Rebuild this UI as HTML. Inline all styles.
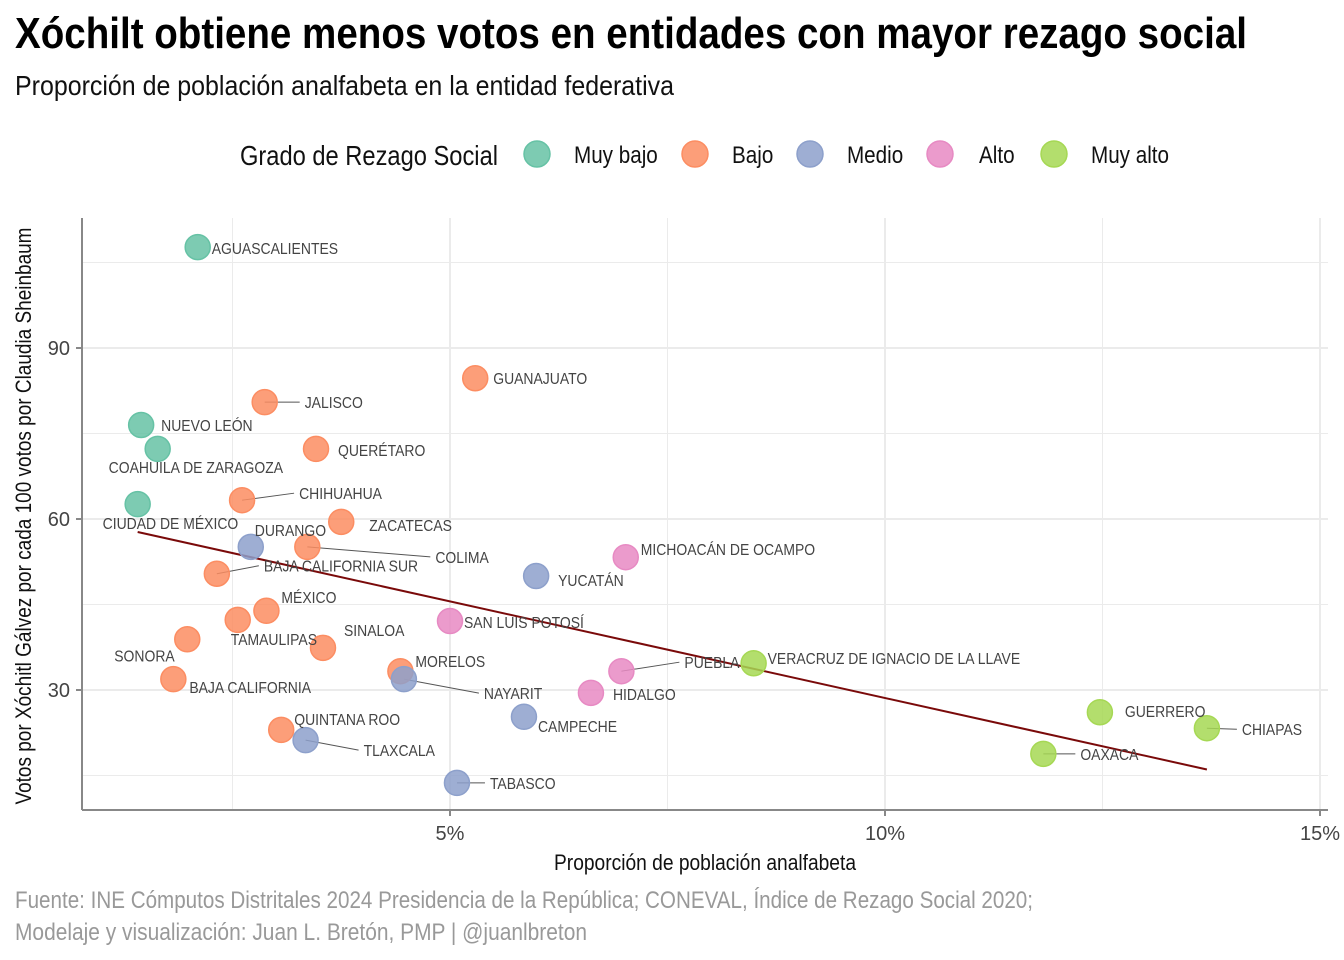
<!DOCTYPE html>
<html><head><meta charset="utf-8"><style>
html,body{margin:0;padding:0;background:#fff}
svg{display:block;font-family:"Liberation Sans",sans-serif}
</style></head><body>
<svg id="chart" width="1344" height="960" viewBox="0 0 1344 960">
<text x="15" y="48" font-size="44" font-weight="bold" fill="#000" textLength="1232" lengthAdjust="spacingAndGlyphs">Xóchilt obtiene menos votos en entidades con mayor rezago social</text>
<text x="15" y="95" font-size="28" fill="#111" textLength="659" lengthAdjust="spacingAndGlyphs">Proporción de población analfabeta en la entidad federativa</text>
<g id="legend">
<text x="240" y="165" font-size="28" fill="#111" textLength="258" lengthAdjust="spacingAndGlyphs">Grado de Rezago Social</text>
</g>
<g id="grid"></g><g id="axes"></g><g id="trend"></g><g id="leaders"></g><g id="points"></g><g id="labels"></g>
<text x="705" y="870" font-size="22" fill="#111" text-anchor="middle" textLength="302" lengthAdjust="spacingAndGlyphs">Proporción de población analfabeta</text>
<text transform="translate(31,516) rotate(-90)" font-size="22" fill="#111" text-anchor="middle" textLength="577" lengthAdjust="spacingAndGlyphs">Votos por Xóchitl Gálvez por cada 100 votos por Claudia Sheinbaum</text>
<text x="15" y="908" font-size="24" fill="#999" textLength="1018" lengthAdjust="spacingAndGlyphs">Fuente: INE Cómputos Distritales 2024 Presidencia de la República; CONEVAL, Índice de Rezago Social 2020;</text>
<text x="15" y="940" font-size="24" fill="#999" textLength="572" lengthAdjust="spacingAndGlyphs">Modelaje y visualización: Juan L. Bretón, PMP | @juanlbreton</text>
</svg>
<script>
const states = ["AGUASCALIENTES","GUANAJUATO","JALISCO","NUEVO LEÓN","COAHUILA DE ZARAGOZA","QUERÉTARO","CHIHUAHUA","CIUDAD DE MÉXICO","ZACATECAS","DURANGO","COLIMA","MICHOACÁN DE OCAMPO","BAJA CALIFORNIA SUR","YUCATÁN","MÉXICO","TAMAULIPAS","SAN LUIS POTOSÍ","SONORA","SINALOA","VERACRUZ DE IGNACIO DE LA LLAVE","MORELOS","PUEBLA","NAYARIT","BAJA CALIFORNIA","HIDALGO","GUERRERO","CAMPECHE","CHIAPAS","QUINTANA ROO","TLAXCALA","OAXACA","TABASCO"];
const illiteracy = [2.10,5.29,2.87,1.45,1.64,3.46,2.61,1.41,3.75,2.71,3.36,7.02,2.32,5.99,2.89,2.56,5.00,1.98,3.54,8.49,4.43,6.97,4.47,1.82,6.62,12.47,5.85,13.70,3.06,3.34,11.82,5.08];
const votes = [107.7,84.7,80.5,76.5,72.3,72.3,63.3,62.6,59.5,55.1,55.1,53.3,50.4,50.0,43.9,42.3,42.1,38.9,37.4,34.7,33.3,33.3,31.9,31.9,29.5,26.1,25.3,23.3,23.0,21.2,18.8,13.7];
const rezago = ["Muy bajo","Bajo","Bajo","Muy bajo","Muy bajo","Bajo","Bajo","Muy bajo","Bajo","Medio","Bajo","Alto","Bajo","Medio","Bajo","Bajo","Alto","Bajo","Bajo","Muy alto","Bajo","Alto","Medio","Bajo","Alto","Muy alto","Medio","Muy alto","Bajo","Medio","Muy alto","Medio"];
const categories = ["Muy bajo","Bajo","Medio","Alto","Muy alto"];
const trendCoef = [62.5,-3.39];
const xTicks = [5,10,15];
const xTickLabels = ["5%","10%","15%"];
const yTicks = [30,60,90];
const yTickLabels = ["30","60","90"];

const colors = ["#66c2a5","#fc8d62","#8da0cb","#e78ac3","#a6d854"];
// label placement offsets (pixels) relative to point: [dx, dy, leader]
const labelOffsets = [[14,7,0],[18,6,0],[40,6,1],[20,6,0],[-49,24,0],[22,7,0],[57,-1,1],[-35,25,0],[28,9,0],[4,-11,0],[128,16,1],[15,-2,0],[47,-2,1],[22,10,0],[15,-8,0],[-7,25,0],[14,7,0],[-73,22,0],[21,-12,0],[14,1,0],[15,-4,0],[63,-3,1],[80,20,1],[16,14,0],[22,7,0],[25,5,0],[14,15,0],[35,7,1],[13,-5,0],[58,16,1],[37,6,1],[33,6,1]];

const NS="http://www.w3.org/2000/svg";
const X0=82,X1=1328,Y0=218,Y1=810;
const xs=v=>15+v*87;
const ys=v=>348-(v-90)*5.7;
function mk(tag,attrs,parent){const e=document.createElementNS(NS,tag);for(const k in attrs)e.setAttribute(k,attrs[k]);parent.appendChild(e);return e;}
const grid=document.getElementById('grid'),axes=document.getElementById('axes');
[2.5,5,7.5,10,12.5,15].forEach(v=>{const l=mk('line',{x1:xs(v),x2:xs(v),y1:Y0,y2:Y1,stroke:'#ebebeb','stroke-width':v%5?1:2},grid);

});
[15,30,45,60,75,90,105].forEach(v=>{const l=mk('line',{x1:X0,x2:X1,y1:ys(v),y2:ys(v),stroke:'#ebebeb','stroke-width':v%30?1:2},grid);

});
const ax=mk('line',{x1:X0,x2:X0,y1:Y0,y2:Y1,stroke:'#888','stroke-width':2},axes);


const bx=mk('line',{x1:X0,x2:X1,y1:Y1,y2:Y1,stroke:'#888','stroke-width':2},axes);


xTicks.forEach((v,i)=>{mk('line',{x1:xs(v),x2:xs(v),y1:Y1,y2:Y1+6,stroke:'#888','stroke-width':2},axes);
const t=mk('text',{x:xs(v),y:840,'font-size':20,fill:'#444','text-anchor':'middle'},axes);t.textContent=xTickLabels[i];

});
yTicks.forEach((v,i)=>{mk('line',{x1:X0-6,x2:X0,y1:ys(v),y2:ys(v),stroke:'#888','stroke-width':2},axes);
const t=mk('text',{x:70,y:ys(v)+7,'font-size':20,fill:'#444','text-anchor':'end'},axes);t.textContent=yTickLabels[i];

});
const mn=Math.min(...illiteracy),mx=Math.max(...illiteracy);
const tl=mk('line',{x1:xs(mn),y1:ys(trendCoef[0]+trendCoef[1]*mn),x2:xs(mx),y2:ys(trendCoef[0]+trendCoef[1]*mx),stroke:'#7a0a0a','stroke-width':2},document.getElementById('trend'));


const P=document.getElementById('points'),L=document.getElementById('labels'),LD=document.getElementById('leaders');
states.forEach((s,i)=>{const cx=xs(illiteracy[i]),cy=ys(votes[i]);const c=colors[categories.indexOf(rezago[i])];
const o=labelOffsets[i];
if(o[2]){const ll=mk('line',{x1:cx,y1:cy,x2:cx+o[0]-5,y2:cy+o[1]-6,stroke:'#555','stroke-width':1},LD);

}
const p=mk('circle',{cx:cx,cy:cy,r:12.5,fill:c,'fill-opacity':0.85,stroke:c,'stroke-width':1.5},P);


const t=mk('text',{x:cx+o[0],y:cy+o[1],'font-size':15.5,fill:'#444'},L);t.textContent=s;


t.setAttribute('textLength',(t.getComputedTextLength()*0.9).toFixed(1));
t.setAttribute('lengthAdjust','spacingAndGlyphs');});
const lg=document.getElementById('legend');const lcx=[537,695,810,940,1054],ltx=[574,732,847,979,1091];
categories.forEach((k,i)=>{const c=mk('circle',{cx:lcx[i],cy:154,r:13,fill:colors[i],'fill-opacity':0.85,stroke:colors[i],'stroke-width':1.5},lg);


const t=mk('text',{x:ltx[i],y:163,'font-size':24,fill:'#111'},lg);t.textContent=k;


t.setAttribute('textLength',(t.getComputedTextLength()*0.86).toFixed(1));
t.setAttribute('lengthAdjust','spacingAndGlyphs');});
</script>
</body></html>
